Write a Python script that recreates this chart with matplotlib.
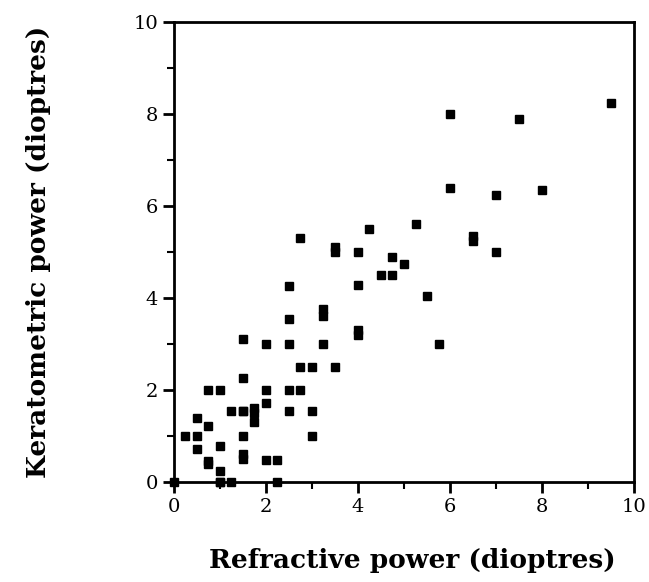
import numpy as np
import matplotlib.pyplot as plt
from matplotlib.ticker import MultipleLocator

# refractive power (x) and keratometric power (y), dioptres
refractive = [0, 0.25, 0.5, 0.5, 0.5, 0.75, 0.75, 0.75, 0.75, 1.0, 1.0, 1.0, 1.0, 1.0,
              1.25, 1.25, 1.5, 1.5, 1.5, 1.5, 1.5, 1.5, 1.5, 1.75, 1.75, 1.75,
              2.0, 2.0, 2.0, 2.0, 2.25, 2.25, 2.5, 2.5, 2.5, 2.5, 2.5, 2.75, 2.75, 2.75,
              3.0, 3.0, 3.0, 3.25, 3.25, 3.25, 3.5, 3.5, 3.5, 4.0, 4.0, 4.0, 4.0,
              4.25, 4.5, 4.75, 4.75, 5.0, 5.25, 5.5, 5.75, 6.0, 6.0, 6.5, 6.5,
              7.0, 7.0, 7.5, 8.0, 9.5]
keratometric = [0, 1.0, 1.4, 1.0, 0.72, 2.0, 1.22, 0.45, 0.4, 2.0, 0.78, 0.24, 0, 0,
                1.55, 0, 3.1, 2.25, 1.55, 1.0, 0.6, 0.5, 1.55, 1.6, 1.3, 1.5,
                3.0, 2.0, 1.72, 0.48, 0.48, 0, 4.25, 3.55, 3.0, 2.0, 1.55, 5.3, 2.5, 2.0,
                2.5, 1.55, 1.0, 3.75, 3.6, 3.0, 5.1, 5.0, 2.5, 5.0, 4.28, 3.3, 3.2,
                5.5, 4.5, 4.9, 4.5, 4.75, 5.6, 4.05, 3.0, 8.0, 6.4, 5.35, 5.25,
                6.25, 5.0, 7.9, 6.35, 8.25]

fig = plt.figure(figsize=(6.49, 5.82), dpi=100)
ax = fig.add_axes([0.268, 0.172, 0.709, 0.79])
ax.plot(refractive, keratometric, 's', color='black', markersize=6, clip_on=False)

ax.set(xlim=(0, 10), ylim=(0, 10))
ax.xaxis.set_major_locator(MultipleLocator(2))
ax.xaxis.set_minor_locator(MultipleLocator(1))
ax.yaxis.set_major_locator(MultipleLocator(2))
ax.yaxis.set_minor_locator(MultipleLocator(1))
ax.tick_params(which='major', direction='out', length=8, width=2, labelsize=14)
ax.tick_params(which='minor', direction='out', length=5, width=1.5)
for s in ax.spines.values():
    s.set_linewidth(2)
for lab in ax.get_xticklabels() + ax.get_yticklabels():
    lab.set_family('DejaVu Serif')

ax.set_xlabel('Refractive power (dioptres)', fontsize=19, fontweight='bold',
              family='DejaVu Serif', va='center')
ax.set_ylabel('Keratometric power (dioptres)', fontsize=19, fontweight='bold',
              family='DejaVu Serif', va='center')
ax.xaxis.set_label_coords(0.517, -0.17)
ax.yaxis.set_label_coords(-0.295, 0.5)

fig.savefig('out.png', dpi=100)
